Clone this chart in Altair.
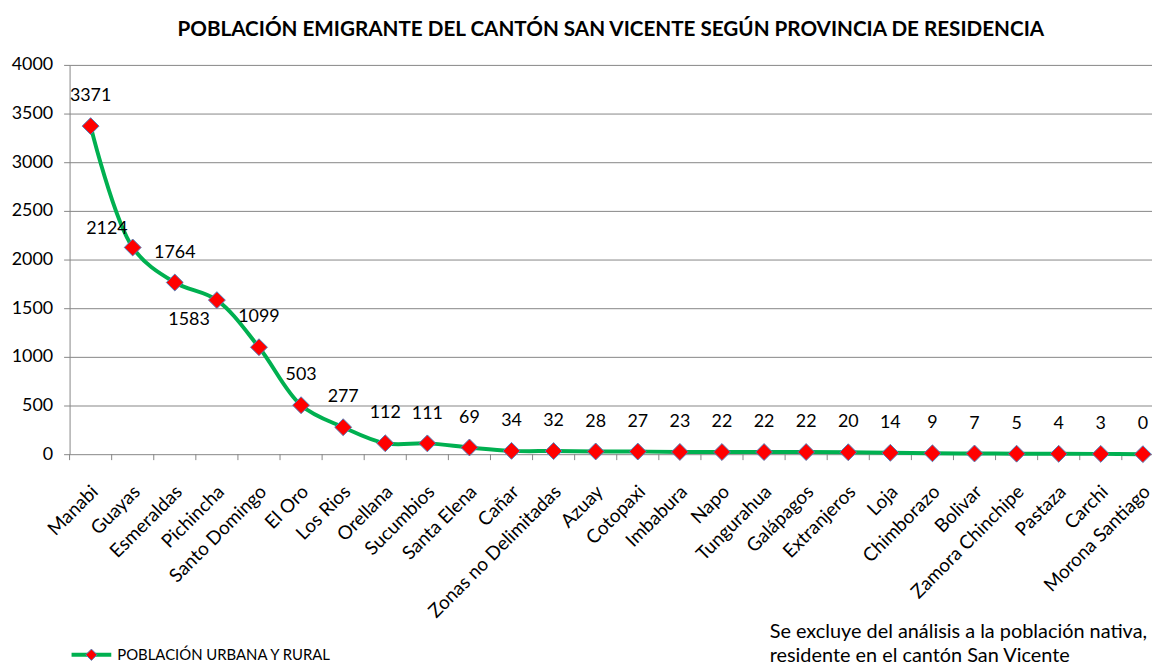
import altair as alt
import pandas as pd

provincias = ["Manabi", "Guayas", "Esmeraldas", "Pichincha", "Santo Domingo", "El Oro",
              "Los Rios", "Orellana", "Sucumbios", "Santa Elena", "Cañar",
              "Zonas no Delimitadas", "Azuay", "Cotopaxi", "Imbabura", "Napo",
              "Tungurahua", "Galápagos", "Extranjeros", "Loja", "Chimborazo", "Bolivar",
              "Zamora Chinchipe", "Pastaza", "Carchi", "Morona Santiago"]
poblacion = [3371, 2124, 1764, 1583, 1099, 503, 277, 112, 111, 69, 34, 32, 28, 27, 23,
             22, 22, 22, 20, 14, 9, 7, 5, 4, 3, 0]
y_ticks = [0, 500, 1000, 1500, 2000, 2500, 3000, 3500, 4000]
titulo = "POBLACIÓN EMIGRANTE DEL CANTÓN SAN VICENTE SEGÚN PROVINCIA DE RESIDENCIA"
serie = "POBLACIÓN URBANA Y RURAL"
nota_1 = "Se excluye del análisis a la población nativa,"
nota_2 = "residente en el cantón  San Vicente"

df = pd.DataFrame({"provincia": provincias, "valor": poblacion})

FONT = "Lato"
W, H = 1090, 392
GREEN = "#00B050"
RED = "#FF0000"
BLUE = "#4F81BD"
GRID = "#868686"

x_axis = alt.Axis(title=None, labelAngle=-45, labelFontSize=19, labelFont=FONT,
                  labelColor="black", ticks=False, domain=False, labelPadding=28,
                  labelOffset=-2, grid=False, labelOverlap=False, labelBound=False)
x_scale = alt.Scale(range=[0, 1102], paddingInner=0, paddingOuter=0)
y_axis = alt.Axis(title=None, values=y_ticks, format="d", grid=True, gridColor=GRID,
                  domainColor=GRID, tickColor=GRID, tickSize=6, labelPadding=11,
                  labelFontSize=18, labelFont=FONT, labelColor="black")
y_scale = alt.Scale(domain=[0, 4000], nice=False)


def xenc(**kw):
    return alt.X("provincia:N", sort=provincias, scale=x_scale, axis=x_axis, **kw)


yenc = alt.Y("valor:Q", scale=y_scale, axis=y_axis)

base = alt.Chart(df)

ticks = base.mark_rule(color=GRID, strokeWidth=1).encode(
    x=xenc(bandPosition=0), y=alt.value(H), y2=alt.value(H + 6))

line = base.mark_line(color=GREEN, strokeWidth=4, interpolate="catmull-rom").encode(
    x=xenc(), y=yenc)

points = base.mark_point(shape="diamond", filled=True, fill=RED, stroke=BLUE,
                         strokeWidth=1, size=289, opacity=1).encode(x=xenc(), y=yenc)

label_style = dict(font=FONT, fontSize=18, color="black", baseline="middle")

labels = base.mark_text(dy=-30, **label_style).encode(
    x=xenc(), y=yenc, text="valor:Q").transform_filter(
    "datum.provincia != 'Guayas' && datum.provincia != 'Pichincha'")

label_guayas = base.mark_text(dx=-26, dy=-19, **label_style).encode(
    x=xenc(), y=yenc, text="valor:Q").transform_filter("datum.provincia == 'Guayas'")

label_pich = base.mark_text(dx=-28, dy=20, **label_style).encode(
    x=xenc(), y=yenc, text="valor:Q").transform_filter("datum.provincia == 'Pichincha'")

one = alt.Chart(pd.DataFrame({"t": [serie], "n1": [nota_1], "n2": [nota_2]}))

leg_line = one.mark_rule(color=GREEN, strokeWidth=4).encode(
    x=alt.value(2), x2=alt.value(42), y=alt.value(594))
leg_pt = one.mark_point(shape="diamond", filled=True, fill=RED, stroke=BLUE,
                        strokeWidth=1, size=130, opacity=1).encode(
    x=alt.value(22), y=alt.value(594))
leg_txt = one.mark_text(align="left", baseline="middle", font=FONT, fontSize=15,
                        color="black").encode(x=alt.value(48), y=alt.value(594), text="t:N")
note1 = one.mark_text(align="left", baseline="middle", font=FONT, fontSize=20,
                      color="black").encode(x=alt.value(705), y=alt.value(571), text="n1:N")
note2 = one.mark_text(align="left", baseline="middle", font=FONT, fontSize=20,
                      color="black").encode(x=alt.value(705), y=alt.value(595), text="n2:N")

chart = alt.layer(
    ticks, line, points, labels, label_guayas, label_pich,
    leg_line, leg_pt, leg_txt, note1, note2
).properties(
    width=W, height=H,
    title=alt.TitleParams(titulo, font=FONT, fontSize=20.8, fontWeight="bold",
                          anchor="middle", offset=15, color="black"),
    autosize=alt.AutoSizeParams(type="none"),
    padding={"left": 62, "top": 55, "right": 0, "bottom": 210},
).configure_view(stroke=None)

chart.save("out.html", embed_options={"renderer": "svg", "actions": False})
